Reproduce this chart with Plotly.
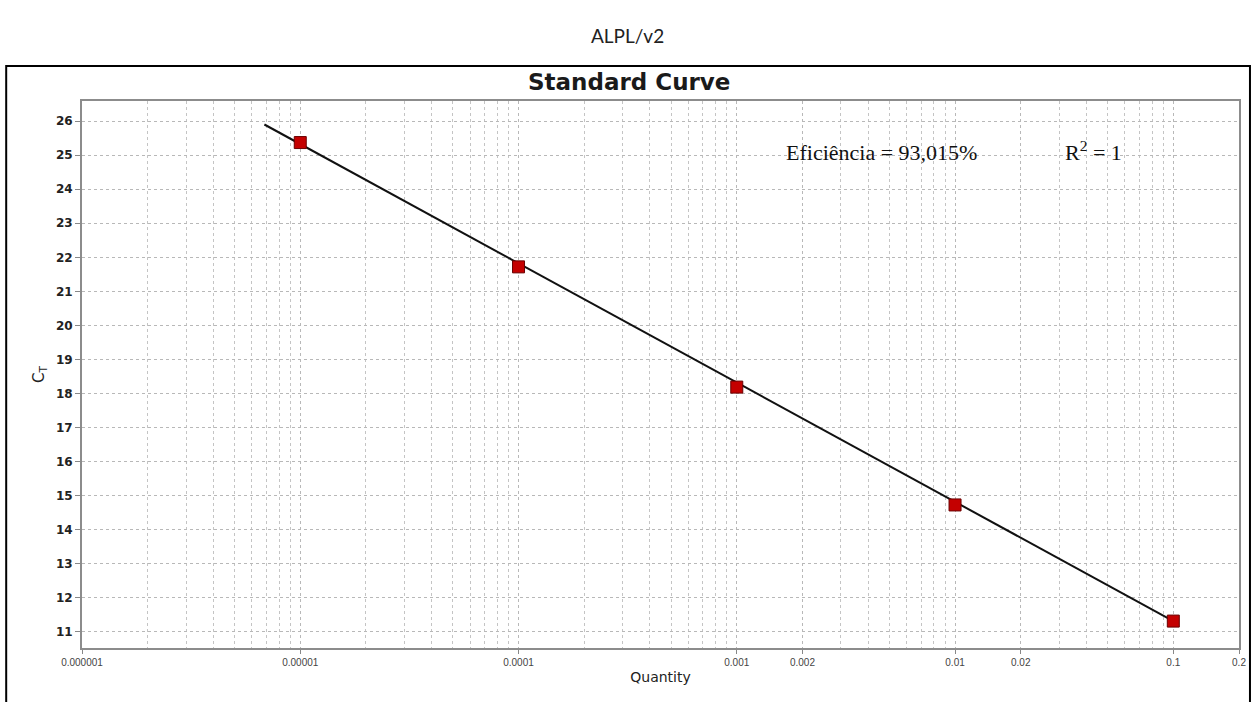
import plotly.graph_objects as go

# ---- data ----
quantity = [0.00001, 0.0001, 0.001, 0.01, 0.1]
ct_values = [25.37, 21.72, 18.19, 14.73, 11.32]
fit_x = [6.85e-6, 0.1]
fit_y = [25.9, 11.32]
x_tick_vals = [0.000001, 0.00001, 0.0001, 0.001, 0.002, 0.01, 0.02, 0.1, 0.2]
x_tick_text = ["0.000001", "0.00001", "0.0001", "0.001", "0.002", "0.01", "0.02", "0.1", "0.2"]
y_tick_vals = list(range(11, 27))
minor_vals = [m * 10.0 ** e for e in range(-6, 0) for m in range(1, 10)]
minor_vals = [v for v in minor_vals if v <= 0.2]

# ---- layout geometry (pixels) ----
W, H = 1258, 702
L, R, T, B = 82, 1242, 101, 648
PW, PH = R - L, B - T


def px(x):
    return (x - L) / PW


def py(y):
    return (B - y) / PH


fig = go.Figure()
fig.add_trace(go.Scatter(
    x=fit_x, y=fit_y, mode="lines",
    line=dict(color="#111111", width=2),
    hoverinfo="skip", showlegend=False,
))
fig.add_trace(go.Scatter(
    x=quantity, y=ct_values, mode="markers",
    marker=dict(symbol="square", size=12, color="#c40000",
                line=dict(color="#6a0000", width=1)),
    showlegend=False,
))

grid = dict(gridcolor="#b8b8b8", griddash="dot", gridwidth=1)

fig.update_xaxes(
    type="log", range=[-6, 0.30103 - 1],
    tickvals=x_tick_vals, ticktext=x_tick_text,
    tickfont=dict(family="Liberation Sans", size=10, color="#444"),
    ticks="outside", ticklen=4, tickcolor="#888",
    showline=True, linecolor="#8c8c8c", linewidth=2, mirror=True,
    minor=dict(tickvals=minor_vals, showgrid=True, gridcolor="#c4c4c4",
               griddash="dot", gridwidth=1, ticks=""),
    title=dict(text="Quantity", font=dict(family="DejaVu Sans", size=14, color="#222"),
               standoff=5),
    zeroline=False,
    **grid,
)
fig.update_yaxes(
    range=[10.53, 26.59],
    tickvals=y_tick_vals,
    tickfont=dict(family="DejaVu Sans", size=12, color="#222", weight="bold"),
    ticks="outside", ticklen=5, tickcolor="#888",
    showline=True, linecolor="#8c8c8c", linewidth=2, mirror=True,
    title=dict(text="C<sub>T</sub>", font=dict(family="DejaVu Sans", size=15, color="#222"),
               standoff=8),
    zeroline=False,
    **grid,
)

fig.update_layout(
    width=W, height=H,
    margin=dict(l=L, r=W - R, t=T, b=H - B, pad=0),
    paper_bgcolor="white", plot_bgcolor="white",
    shapes=[
        dict(type="rect", xref="paper", yref="paper",
             x0=px(6), x1=px(1253), y0=py(715), y1=py(66),
             line=dict(color="black", width=2), fillcolor="rgba(0,0,0,0)", layer="below"),
    ],
    annotations=[
        dict(text="ALPL/v2", xref="paper", yref="paper", x=px(629), y=py(36),
             yanchor="middle", showarrow=False,
             font=dict(family="Lato", size=19, color="#222")),
        dict(text="<b>Standard Curve</b>", xref="paper", yref="paper", x=px(630), y=py(82),
             yanchor="middle", showarrow=False,
             font=dict(family="DejaVu Sans", size=23, color="#1a1a1a")),
        dict(text="Eficiência = 93,015%", xref="paper", yref="paper", x=px(786), y=py(152),
             xanchor="left", yanchor="middle", showarrow=False,
             font=dict(family="Liberation Serif", size=22, color="#111")),
        dict(text="R<sup>2</sup> = 1", xref="paper", yref="paper", x=px(1066), y=py(151),
             xanchor="left", yanchor="middle", showarrow=False,
             font=dict(family="Liberation Serif", size=22, color="#111")),
    ],
)

fig.write_html("out.html")
